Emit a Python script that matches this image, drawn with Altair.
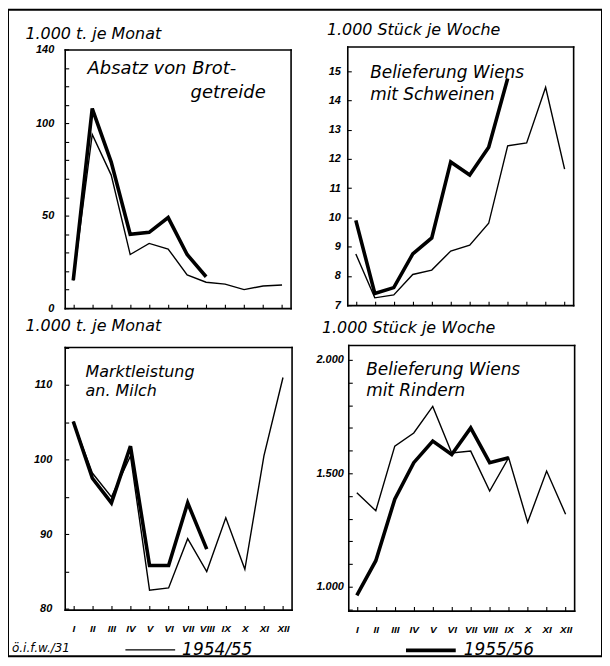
import altair as alt
import pandas as pd

months = ["I", "II", "III", "IV", "V", "VI", "VII", "VIII", "IX", "X", "XI", "XII"]
years = ["1954/55", "1955/56"]

# Absatz von Brotgetreide (1.000 t je Monat)
brot_5455 = [15, 94, 72, 29, 35, 32, 18, 14, 13, 10, 12, 12.5]
brot_5556 = [15, 108, 79, 40, 41, 49, 29, 17]
# Belieferung Wiens mit Schweinen (1.000 Stück je Woche)
schw_5455 = [8.75, 7.25, 7.35, 8.05, 8.2, 8.85, 9.05, 9.8, 12.45, 12.55, 14.45, 11.65]
schw_5556 = [9.9, 7.4, 7.6, 8.75, 9.3, 11.9, 11.45, 12.4, 14.75]
# Marktleistung an Milch (1.000 t je Monat)
milch_5455 = [105.1, 98.2, 95.0, 100.5, 82.5, 82.8, 89.4, 85.0, 92.2, 85.3, 100.5, 111.0]
milch_5556 = [105.1, 97.5, 94.2, 101.8, 85.8, 85.8, 94.2, 88.0]
# Belieferung Wiens mit Rindern (Stück je Woche)
rind_5455 = [1415, 1335, 1620, 1678, 1795, 1590, 1598, 1422, 1569, 1284, 1510, 1320]
rind_5556 = [962, 1115, 1386, 1547, 1642, 1583, 1700, 1547, 1569]


def long(a, b):
    rows = [{"Monat": m, "Wert": v, "Jahr": years[0]} for m, v in zip(months, a)]
    rows += [{"Monat": m, "Wert": v, "Jahr": years[1]} for m, v in zip(months, b)]
    return pd.DataFrame(rows)


W, H = 597, 650
TF = "DejaVu Sans"
LF = "Liberation Sans"

panels = [
    dict(data=long(brot_5455, brot_5556), xr=[57, 284], yr=[300, 40], dom=[0, 140],
         labels=[0, 50, 100, 140], ticks=list(range(0, 141, 10)),
         unit="1.000 t. je Monat", uxy=(17, 24), pad=11, xlabels=False, de=False),
    dict(data=long(schw_5455, schw_5556), xr=[341, 568], yr=[297, 37], dom=[7, 15.85],
         labels=list(range(7, 16)), ticks=list(range(7, 16)),
         unit="1.000 Stück je Woche", uxy=(320, 20), pad=7, xlabels=False, de=False),
    dict(data=long(milch_5455, milch_5556), xr=[57, 285], yr=[603, 339], dom=[79.9, 115.1],
         labels=[80, 90, 100, 110], ticks=list(range(80, 116, 5)),
         unit="1.000 t. je Monat", uxy=(17, 317), pad=13, xlabels=True, de=False),
    dict(data=long(rind_5455, rind_5556), xr=[342, 569], yr=[604, 337], dom=[895, 2066],
         labels=[1000, 1500, 2000], ticks=list(range(900, 2001, 100)),
         unit="1.000 Stück je Woche", uxy=(315, 320), pad=5, xlabels=True, de=True),
]

layers = []
for i, p in enumerate(panels):
    x0, x1 = p["xr"]
    ytop, ybot = min(p["yr"]), max(p["yr"])
    xs = alt.Scale(type="point", domain=months, range=p["xr"], padding=0.45)
    ys = alt.Scale(domain=p["dom"], range=p["yr"], zero=False, nice=False)
    base = alt.Chart(p["data"])
    legend = None
    if i == 0:
        legend = alt.Legend(orient="none", legendX=117, legendY=617, direction="horizontal",
                            title=None, symbolType="stroke", symbolSize=2500,
                            symbolStrokeColor="black", labelFont=TF, labelFontSize=17,
                            labelFontStyle="italic", labelColor="black", labelOffset=6,
                            columnPadding=146, padding=0)
    frame_layer = base.mark_point(opacity=0).encode(
        x=alt.X("Monat:O", sort=months, scale=xs,
                axis=alt.Axis(orient="top", offset=-ytop, labels=False, ticks=False,
                              domain=True, title=None)),
        y=alt.Y("Wert:Q", scale=ys,
                axis=alt.Axis(orient="left", offset=-x1, labels=False, ticks=False,
                              domain=True, title=None)),
    )
    lines = base.mark_line(color="black").encode(
        x=alt.X("Monat:O", sort=months, scale=xs,
                axis=alt.Axis(orient="top", offset=-ybot, labels=False, ticks=True,
                              tickSize=4, domain=True, title=None)),
        y=alt.Y("Wert:Q", scale=ys,
                axis=alt.Axis(orient="right", offset=x0 - W, labels=False, values=p["ticks"],
                              ticks=True, tickSize=4, domain=True, title=None)),
        strokeWidth=alt.StrokeWidth("Jahr:N", scale=alt.Scale(domain=years, range=[1.4, 3.6]),
                                    legend=legend),
        detail="Jahr:N",
    )
    yaxis_kw = dict(orient="left", offset=-x0, values=p["labels"], ticks=False, domain=False,
                    labelPadding=p["pad"], title=p["unit"], titleAngle=0,
                    titleX=p["uxy"][0] - x0, titleY=p["uxy"][1], titleAlign="left",
                    titleBaseline="middle")
    if p["de"]:
        yaxis_kw["labelExpr"] = "replace(format(datum.value, ','), ',', '.')"
    labels_layer = base.mark_line(opacity=0).encode(
        x=alt.X("Monat:O", sort=months, scale=xs,
                axis=alt.Axis(orient="bottom", offset=ybot - H, labels=p["xlabels"],
                              ticks=False, domain=False, title=None, labelPadding=14,
                              labelAngle=0, labelOverlap=False, labelFontSize=10,
                              labelFontWeight="bold")),
        y=alt.Y("Wert:Q", scale=ys, axis=alt.Axis(**yaxis_kw)),
        detail="Jahr:N",
    )
    layers += [frame_layer, lines, labels_layer]


def note(text, x, y, align="left", size=17):
    return alt.Chart(pd.DataFrame({"t": [text]})).mark_text(
        align=align, baseline="middle", font=TF, fontSize=size, fontStyle="italic",
        color="black").encode(x=alt.value(x), y=alt.value(y), text="t:N")


layers += [
    note("Absatz  von  Brot-", 80, 60, size=18),
    note("getreide", 259, 84, align="right", size=18),
    note("Belieferung Wiens", 364, 64),
    note("mit Schweinen", 364, 86),
    note("Marktleistung", 78, 364, size=16),
    note("an. Milch", 78, 383, size=16),
    note("Belieferung Wiens", 360, 362),
    note("mit Rindern", 360, 383),
    note("ö.i.f.w./31", 4, 642, size=12),
]

chart = alt.layer(*layers).resolve_scale(
    x="independent", y="independent"
).resolve_axis(
    x="independent", y="independent"
).properties(
    width=W, height=H, padding=0, autosize=alt.AutoSizeParams(type="none")
).configure_view(
    stroke="black", strokeWidth=2
).configure_axis(
    labelFont=LF, labelFontStyle="italic", labelFontSize=11, labelFontWeight="bold",
    labelColor="black", domainColor="black", tickColor="black", domainWidth=1.6,
    tickWidth=1.1, domainCap="square", grid=False, titleFont=TF, titleFontStyle="italic",
    titleFontWeight="normal", titleFontSize=16, titleColor="black"
)

chart.save("out.html", embed_options={"renderer": "svg", "actions": False})
